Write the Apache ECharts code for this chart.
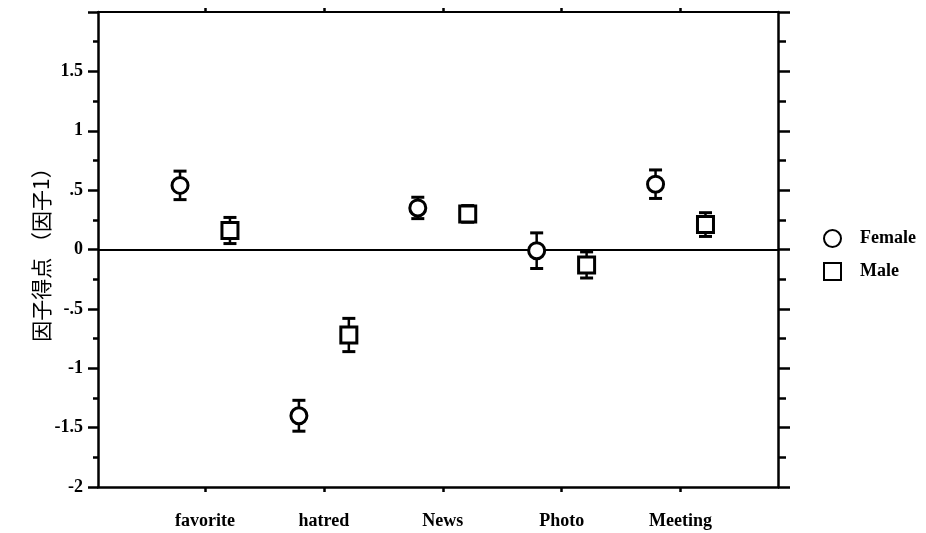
<!DOCTYPE html>
<html>
<head>
<meta charset="utf-8">
<script src="https://cdn.jsdelivr.net/npm/echarts@6/dist/echarts.min.js"></script>
<style>html,body{margin:0;padding:0;background:#fff;}#c{width:926px;height:533px;}</style>
</head>
<body>
<div id="c"></div>
<script>
var categories = ['favorite', 'hatred', 'News', 'Photo', 'Meeting'];
var femaleMean = [0.54, -1.40, 0.35, -0.01, 0.55];
var femaleErr  = [0.12, 0.13, 0.09, 0.15, 0.12];
var maleMean   = [0.16, -0.72, 0.30, -0.13, 0.21];
var maleErr    = [0.11, 0.14, 0.07, 0.11, 0.10];
var yTicks = [-2, -1.5, -1, -0.5, 0, 0.5, 1, 1.5];

var dodge = 0.21;
function pts(mean, off) { return mean.map(function (m, i) { return [i + 1 + off, m]; }); }
function errs(mean, err, off) { return mean.map(function (m, i) { return [i + 1 + off, m - err[i], m + err[i]]; }); }

var serif = 'Liberation Serif';
var chart = echarts.init(document.getElementById('c'), null, {renderer: 'canvas'});

function errRender(params, api) {
  var x = api.value(0), lo = api.value(1), hi = api.value(2);
  var a = api.coord([x, lo]), b = api.coord([x, hi]);
  var w = 6.5;
  return {type: 'group', children: [
    {type: 'line', shape: {x1: a[0], y1: a[1], x2: b[0], y2: b[1]}, style: {stroke: '#000', lineWidth: 2.5}},
    {type: 'line', shape: {x1: a[0] - w, y1: a[1], x2: a[0] + w, y2: a[1]}, style: {stroke: '#000', lineWidth: 3}},
    {type: 'line', shape: {x1: b[0] - w, y1: b[1], x2: b[0] + w, y2: b[1]}, style: {stroke: '#000', lineWidth: 3}}
  ]};
}

var axisLine = {show: true, onZero: false, lineStyle: {color: '#000', width: 2.5}};

chart.setOption({
  animation: false,
  backgroundColor: '#fff',
  grid: {left: 98, right: 148, top: 12, bottom: 46, containLabel: false},
  legend: {
    orient: 'vertical', left: 818, top: 224, itemWidth: 17, itemHeight: 17, itemGap: 14,
    data: ['Female', 'Male'],
    textStyle: {fontFamily: serif, fontSize: 18, fontWeight: 'bold', color: '#000', padding: [0, 0, 0, 14]}
  },
  xAxis: [{
    type: 'value', position: 'bottom', min: 0.1, max: 5.82,
    axisLine: axisLine, splitLine: {show: false},
    axisTick: {show: true, inside: false, length: 5, customValues: [1, 2, 3, 4, 5], lineStyle: {color: '#000', width: 2.5}},
    axisLabel: {show: true, margin: 25, customValues: [1, 2, 3, 4, 5],
      formatter: function (v) { return categories[Math.round(v) - 1] || ''; },
      fontFamily: serif, fontSize: 18, fontWeight: 'bold', color: '#000'}
  }, {
    type: 'value', position: 'top', min: 0.1, max: 5.82,
    axisLine: {show: true, onZero: false, lineStyle: {color: '#000', width: 2}}, splitLine: {show: false},
    axisTick: {show: true, inside: false, length: 4, customValues: [1, 2, 3, 4, 5], lineStyle: {color: '#000', width: 2.5}},
    axisLabel: {show: false}
  }],
  yAxis: [{
    type: 'value', position: 'left', min: -2, max: 2, interval: 0.5,
    name: '因子得点 （因子1）', nameLocation: 'middle', nameGap: 46, nameRotate: 90, nameMoveOverlap: false,
    nameTextStyle: {fontFamily: 'Noto Sans CJK JP', fontSize: 21, color: '#000'},
    axisLine: axisLine, splitLine: {show: false},
    axisTick: {show: true, inside: false, length: 10, lineStyle: {color: '#000', width: 2.5}},
    minorTick: {show: true, splitNumber: 2, length: 5, lineStyle: {color: '#000', width: 2.5}},
    axisLabel: {margin: 15, fontFamily: serif, fontSize: 18, fontWeight: 'bold', color: '#000',
      formatter: function (v) {
        if (yTicks.indexOf(v) < 0) return '';
        var s = String(v);
        return s.replace(/^0\./, '.').replace(/^-0\./, '-.');
      }}
  }, {
    type: 'value', position: 'right', min: -2, max: 2, interval: 0.5,
    axisLine: axisLine, splitLine: {show: false},
    axisTick: {show: true, inside: false, length: 12, lineStyle: {color: '#000', width: 2.5}},
    minorTick: {show: true, splitNumber: 2, length: 8, lineStyle: {color: '#000', width: 2.5}},
    axisLabel: {show: false}
  }],
  series: [
    {type: 'custom', name: 'FemaleErr', renderItem: errRender, data: errs(femaleMean, femaleErr, -dodge), z: 1, silent: true,
      markLine: {silent: true, symbol: 'none', label: {show: false}, lineStyle: {color: '#000', width: 2, type: 'solid'}, data: [{yAxis: 0}]}},
    {type: 'custom', name: 'MaleErr', renderItem: errRender, data: errs(maleMean, maleErr, dodge), z: 1, silent: true},
    {type: 'scatter', name: 'Female', symbol: 'circle', symbolSize: 16, data: pts(femaleMean, -dodge), z: 5,
      itemStyle: {color: '#fff', borderColor: '#000', borderWidth: 3, opacity: 1}},
    {type: 'scatter', name: 'Male', symbol: 'rect', symbolSize: 16, data: pts(maleMean, dodge), z: 5,
      itemStyle: {color: '#fff', borderColor: '#000', borderWidth: 3, opacity: 1}}
  ]
});
</script>
</body>
</html>
